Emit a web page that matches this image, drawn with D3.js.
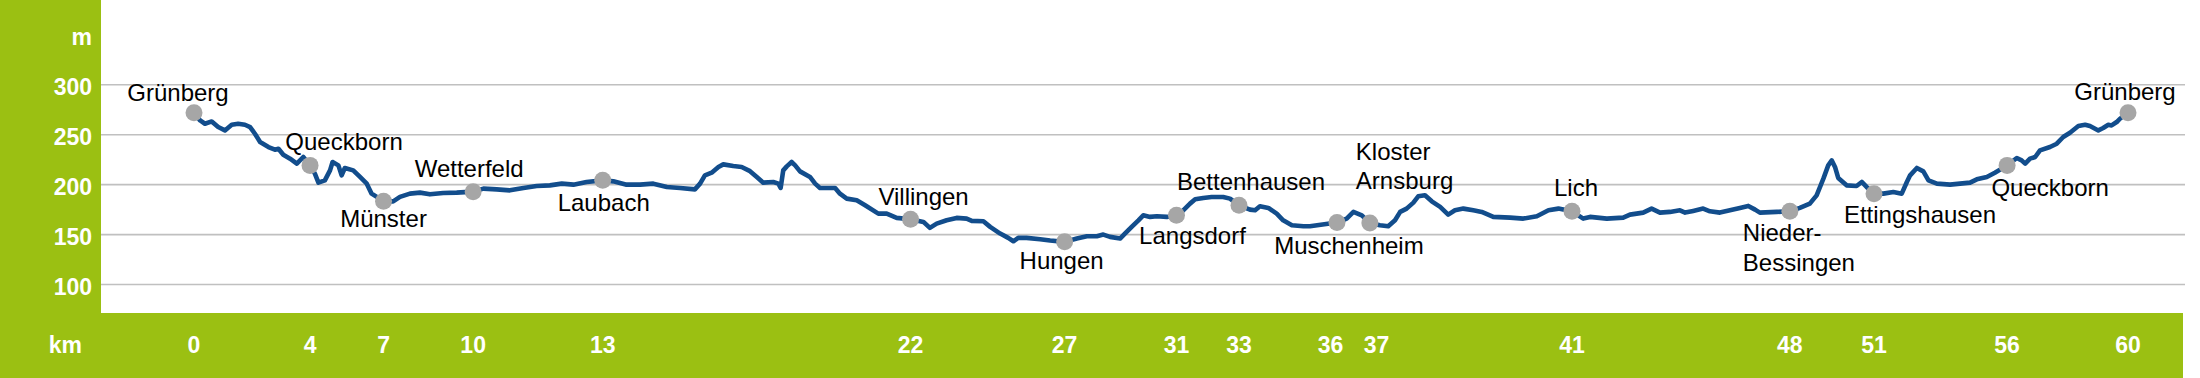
<!DOCTYPE html>
<html>
<head>
<meta charset="utf-8">
<script src="https://cdn.jsdelivr.net/npm/d3@7"></script>
<style>
  html, body { margin: 0; padding: 0; background: #fff; }
  svg { display: block; font-family: "Liberation Sans", Arial, sans-serif; }
</style>
</head>
<body>
<div id="chart"></div>
<script>
// Elevation profile of the circular route Grünberg - Lich - Grünberg

// ---------- Data ----------
// profile: distance in km, elevation in m
const profileKm = [
  0, 0.19, 0.34, 0.55, 0.75, 0.96, 1.17, 1.37, 1.58, 1.74, 1.89, 2.05, 2.31, 2.51, 2.62, 2.77, 2.98, 3.19, 3.39, 3.6,
  3.75, 3.86, 4.06, 4.22, 4.3, 4.48, 4.58, 4.68, 4.94, 5.15, 5.36, 5.51, 5.67, 5.88, 6.18, 6.39, 6.7, 7.01, 7.32, 7.73,
  8.15, 8.66, 8.98, 9.39, 9.8, 10.22, 10.63, 11.04, 11.41, 11.77, 12.18, 12.68, 13.01, 13.42, 13.84, 14.25, 14.67, 15.08, 15.54, 15.7,
  15.85, 16.06, 16.27, 16.42, 16.73, 16.99, 17.25, 17.46, 17.66, 17.97, 18.13, 18.2, 18.28, 18.39, 18.54, 18.65, 18.8, 19.11, 19.27, 19.42,
  19.89, 20.04, 20.25, 20.56, 20.82, 21.23, 21.49, 21.8, 22.23, 22.63, 22.83, 23.04, 23.35, 23.66, 23.97, 24.13, 24.49, 24.7, 25.01, 25.26,
  25.42, 25.57, 25.83, 26.25, 26.56, 27.01, 27.39, 27.7, 28.01, 28.21, 28.42, 28.73, 28.88, 29.09, 29.3, 29.45, 29.66, 29.87, 30.18, 30.48,
  30.69, 30.9, 31.06, 31.31, 31.57, 31.93, 32.14, 32.42, 32.76, 32.92, 33.07, 33.33, 33.59, 33.79, 34.06, 34.42, 34.62, 35.46, 35.76, 35.97,
  36.23, 36.48, 36.79, 37.05, 37.26, 37.42, 37.62, 37.83, 37.98, 38.19, 38.4, 38.66, 38.91, 39.12, 39.38, 39.69, 39.95, 40.31, 40.83, 41.24,
  41.66, 42.02, 42.33, 42.75, 43.1, 43.31, 43.83, 44.34, 44.55, 44.96, 45.22, 45.48, 45.79, 46.1, 46.26, 46.51, 46.82, 47.03, 47.34, 47.65,
  47.96, 48.22, 48.43, 48.58, 49.1, 49.51, 49.82, 50.13, 50.34, 50.55, 50.7, 50.81, 50.91, 51.01, 51.27, 51.58, 51.74, 51.89, 52.12, 52.41,
  52.72, 52.98, 53.14, 53.24, 53.45, 53.65, 53.81, 54.07, 54.48, 54.79, 55.1, 55.31, 55.62, 55.87, 56.25, 56.55, 56.7, 56.81, 56.96, 57.12,
  57.27, 57.58, 57.79, 57.99, 58.2, 58.46, 58.67, 58.82, 59.08, 59.23, 59.39, 59.49, 59.65, 59.75, 60
];
const profileElev = [
  272, 264.3, 261, 263.3, 257.7, 254.3, 260, 261, 260, 257.7, 251, 242.7, 237.7, 235, 236, 230, 226, 221, 227.7, 219.3,
  211, 202, 204.3, 214.3, 222.7, 219.3, 209.3, 216.7, 214.3, 207.7, 201, 191, 187.7, 183.3, 183.3, 187.7, 191, 192, 190.3, 191.7,
  192, 193, 196, 195.3, 194.3, 196.7, 198.7, 199.3, 201, 200, 202.7, 204.3, 203.3, 200, 200, 201, 197.7, 196.7, 195.3, 201,
  209.3, 212, 217.7, 220.3, 218.7, 217.7, 213.5, 207.7, 202, 202.7, 201, 196.7, 214.3, 218.3, 222.7, 219.3, 213.3, 207.7, 201, 196.7,
  196.7, 191, 186, 184.3, 179.3, 171, 171, 166.7, 165.3, 162.7, 156.7, 161, 164.3, 166.7, 166, 163.7, 163.3, 157.7, 151, 146.7,
  143.3, 146.7, 146.7, 145.3, 144, 142.7, 146, 148.3, 148.3, 150, 147.7, 146, 151, 157.7, 164.3, 169.3, 167.7, 168.3, 167.7, 169.3,
  174.3, 181, 185.3, 186.7, 187.7, 187.7, 186, 179.3, 175, 174.3, 178.3, 176.7, 171, 164.3, 159.3, 158.3, 158.3, 162, 166, 172.7,
  169.3, 161.7, 159.3, 158.3, 164.3, 172.7, 176, 182, 188.3, 189.3, 183.3, 177.7, 170, 174.3, 176, 174.3, 172.7, 167.7, 167, 166,
  168.3, 174.3, 176, 173.3, 166, 167.7, 166, 167, 170, 172, 176, 172, 172.7, 174.3, 172, 173.7, 176, 173.3, 172, 174.3,
  176.7, 178.7, 175, 172, 172.7, 173.3, 176.7, 181, 189.3, 206, 219.3, 224.3, 217.7, 206.7, 199.3, 198.7, 202.7, 197.7, 191, 191,
  192.7, 191, 202.7, 209.3, 216.7, 213.3, 204.3, 201, 200, 201, 202, 205.3, 207.7, 212, 219.3, 226.7, 224.3, 221, 226, 227.7,
  234.3, 237.7, 241, 247.7, 252, 258.7, 260, 258.7, 254.3, 256.7, 260, 259.3, 262.7, 266, 272
];

// towns along the route
const townNames = [
  "Grünberg", "Queckborn", "Münster", "Wetterfeld", "Laubach", "Villingen", "Hungen", "Langsdorf",
  "Bettenhausen", "Muschenheim", "Kloster\nArnsburg", "Lich", "Nieder-\nBessingen", "Ettingshausen", "Queckborn", "Grünberg"
];
const townKm = [0, 3.6, 5.88, 8.66, 12.68, 22.23, 27.01, 30.48, 32.42, 35.46, 36.48, 42.75, 49.51, 52.12, 56.25, 60];
const townElev = [272, 219.3, 183.3, 193, 204.3, 165.3, 142.7, 169.3, 179.3, 162, 161.7, 173.3, 173.3, 191, 219.3, 272];
const kmLabels = ["0", "4", "7", "10", "13", "22", "27", "31", "33", "36", "37", "41", "48", "51", "56", "60"];

const yTicks = [100, 150, 200, 250, 300];

// ---------- Layout ----------
const W = 2200, H = 378;
const green = "#9bc012";
const panelW = 101;      // left green panel
const bandTop = 313;     // bottom green band
const bandRight = 2183;
const gridRight = 2185;

// label placement relative to each dot: [anchor, dx, dy]
const labelPlace = [
  ["middle", -16, -12], ["middle", 34, -15], ["middle", 0, 26], ["middle", -4, -15],
  ["middle", 1, 31], ["middle", 13, -14], ["middle", -3, 27], ["middle", 16, 29],
  ["middle", 12, -15], ["middle", 12, 31], ["start", -14, -63], ["middle", 4, -15],
  ["start", -47, 30], ["middle", 46, 29], ["middle", 43, 31], ["middle", -3, -13]
];

const x = d3.scaleLinear().domain([0, 60]).range([194, 2128]);
const y = d3.scaleLinear().domain([100, 300]).range([284.5, 84.8]);

const svg = d3.select("#chart").append("svg")
  .attr("width", W)
  .attr("height", H);

svg.append("rect").attr("width", W).attr("height", H).attr("fill", "#fff");

// green frame
svg.append("rect")
  .attr("x", 0).attr("y", 0)
  .attr("width", panelW).attr("height", H)
  .attr("fill", green);
svg.append("rect")
  .attr("x", 0).attr("y", bandTop)
  .attr("width", bandRight).attr("height", H - bandTop)
  .attr("fill", green);

// grid lines
svg.append("g")
  .selectAll("line")
  .data(yTicks)
  .join("line")
  .attr("x1", panelW).attr("x2", gridRight)
  .attr("y1", d => y(d)).attr("y2", d => y(d))
  .attr("stroke", "#c0c0c0")
  .attr("stroke-width", 1.6);

// y tick labels
const tickFont = { size: 23, weight: "bold" };
svg.append("g")
  .selectAll("text")
  .data(yTicks)
  .join("text")
  .attr("x", 92)
  .attr("y", d => y(d) + 10.5)
  .attr("text-anchor", "end")
  .attr("fill", "#fff")
  .attr("font-size", tickFont.size)
  .attr("font-weight", tickFont.weight)
  .text(d => d);

svg.append("text")
  .attr("x", 92).attr("y", 45)
  .attr("text-anchor", "end")
  .attr("fill", "#fff")
  .attr("font-size", tickFont.size)
  .attr("font-weight", tickFont.weight)
  .text("m");

svg.append("text")
  .attr("x", 82).attr("y", 353)
  .attr("text-anchor", "end")
  .attr("fill", "#fff")
  .attr("font-size", tickFont.size)
  .attr("font-weight", tickFont.weight)
  .text("km");

// km tick labels, spread apart where they would collide
const tickX = townKm.map(d => x(d));
const minGap = 46;
for (let k = 1; k < tickX.length; k++) {
  const gap = tickX[k] - tickX[k - 1];
  if (gap < minGap) {
    const push = (minGap - gap) / 2;
    tickX[k - 1] -= push;
    tickX[k] += push;
  }
}
svg.append("g")
  .selectAll("text")
  .data(kmLabels)
  .join("text")
  .attr("x", (d, i) => tickX[i])
  .attr("y", 353)
  .attr("text-anchor", "middle")
  .attr("fill", "#fff")
  .attr("font-size", tickFont.size)
  .attr("font-weight", tickFont.weight)
  .text(d => d);

// profile line
const line = d3.line()
  .x((d, i) => x(profileKm[i]))
  .y(d => y(d));

svg.append("path")
  .datum(profileElev)
  .attr("d", line)
  .attr("fill", "none")
  .attr("stroke", "#124d8c")
  .attr("stroke-width", 4.6)
  .attr("stroke-linejoin", "round")
  .attr("stroke-linecap", "round");

// town dots
svg.append("g")
  .selectAll("circle")
  .data(townKm)
  .join("circle")
  .attr("cx", d => x(d))
  .attr("cy", (d, i) => y(townElev[i]))
  .attr("r", 8.5)
  .attr("fill", "#a6a6a6");

// town labels
const labels = svg.append("g")
  .selectAll("text")
  .data(townNames)
  .join("text")
  .attr("x", (d, i) => x(townKm[i]) + labelPlace[i][1])
  .attr("y", (d, i) => y(townElev[i]) + labelPlace[i][2])
  .attr("text-anchor", (d, i) => labelPlace[i][0])
  .attr("fill", "#000")
  .attr("font-size", 24);

labels.each(function(d, i) {
  const parts = d.split("\n");
  const sel = d3.select(this);
  parts.forEach((p, k) => {
    sel.append("tspan")
      .attr("x", x(townKm[i]) + labelPlace[i][1])
      .attr("dy", k === 0 ? 0 : 29.5)
      .text(p);
  });
});
</script>
</body>
</html>
